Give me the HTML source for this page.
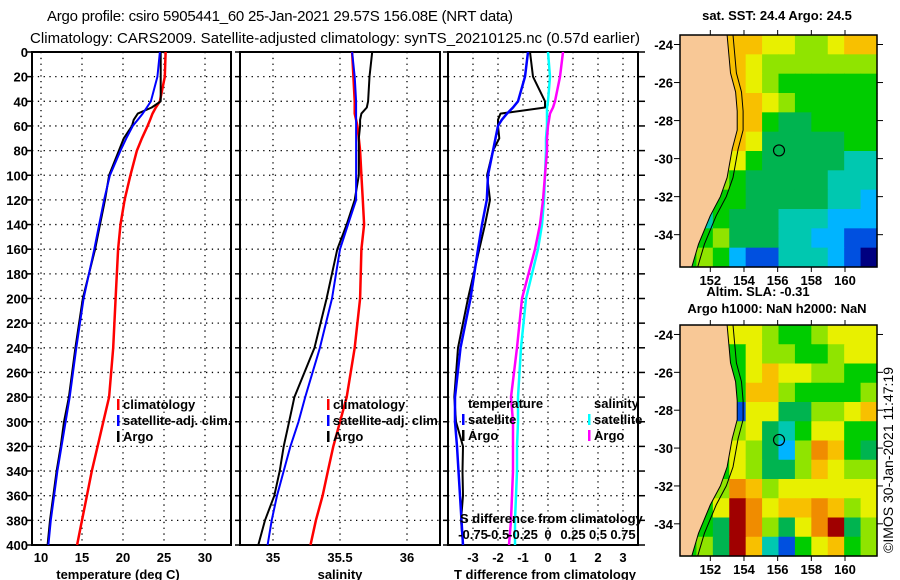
<!DOCTYPE html>
<html><head><meta charset="utf-8"><style>
html,body{margin:0;padding:0;background:#fff;}
svg{display:block;font-family:"Liberation Sans",sans-serif;}
.b{font-weight:bold;font-size:13px;}
.n{font-weight:normal;font-size:15px;}
</style></head><body>
<svg id="c" width="900" height="580" viewBox="0 0 900 580"></svg>
<script>
// ---- data ----
const depths = [0,20,40,45,50,55,60,70,80,100,120,140,160,200,240,280,300,320,340,360,380,400];
const tempClim = [25.2,25.1,24.5,24.0,23.6,23.3,23.0,22.3,21.7,20.9,20.2,19.7,19.4,19.1,18.8,18.3,17.6,16.9,16.2,15.6,15.0,14.4];
const tempSat  = [24.5,24.2,23.4,22.9,22.4,21.8,21.2,20.4,19.7,18.4,17.7,17.1,16.5,15.2,14.3,13.5,13.0,12.5,12.0,11.6,11.2,10.9];
const tempArgo = [24.6,24.6,24.6,23.5,21.8,21.3,21.1,20.1,19.5,18.3,17.8,17.2,16.6,15.1,14.2,13.4,12.8,12.4,11.9,11.5,11.1,10.8];
const salClim = [35.59,35.60,35.61,35.61,35.61,35.62,35.63,35.64,35.65,35.66,35.67,35.68,35.66,35.65,35.61,35.55,35.50,35.45,35.41,35.37,35.32,35.28];
const salSat  = [35.59,35.61,35.62,35.62,35.62,35.62,35.62,35.62,35.62,35.62,35.62,35.56,35.50,35.44,35.35,35.24,35.19,35.13,35.08,35.03,34.99,34.96];
const salArgo = [35.74,35.72,35.71,35.70,35.66,35.65,35.65,35.64,35.64,35.64,35.61,35.55,35.48,35.40,35.31,35.16,35.12,35.08,35.05,35.01,34.94,34.89];
const dTSat  = [-0.8,-0.92,-1.2,-1.4,-1.64,-1.85,-2.0,-2.1,-2.2,-2.4,-2.45,-2.64,-2.8,-3.1,-3.5,-3.72,-3.72,-3.64,-3.58,-3.52,-3.46,-3.4];
const dTArgo = [-0.72,-0.6,-0.12,-0.12,-1.9,-2.0,-2.0,-1.95,-2.2,-2.44,-2.32,-2.52,-2.75,-3.2,-3.6,-3.75,-3.68,-3.4,-3.42,-3.4,-3.48,-3.4];
const dSSat  = [0.0,0.02,0.0,-0.01,-0.01,-0.01,-0.01,-0.02,-0.02,-0.03,-0.04,-0.06,-0.1,-0.22,-0.27,-0.3,-0.3,-0.31,-0.31,-0.32,-0.33,-0.33];
const dSArgo = [0.15,0.12,0.07,0.05,0.02,0.01,0.0,-0.01,-0.01,-0.03,-0.05,-0.08,-0.13,-0.26,-0.31,-0.37,-0.35,-0.35,-0.35,-0.36,-0.37,-0.39];
const depthTicks = [0,20,40,60,80,100,120,140,160,180,200,220,240,260,280,300,320,340,360,380,400];
const tempTicks = [10,15,20,25,30];
const salTicks = [35,35.5,36];
const salTickLabels = ["35","35.5","36"];
const dTTicks = [-3,-2,-1,0,1,2,3];
const dSTicks = [-0.75,-0.5,-0.25,0,0.25,0.5,0.75];
const dSTickLabels = ["-0.75","-0.5","-0.25","0","0.25","0.5","0.75"];
const lonTicks = [152,154,156,158,160];
const latTicks = [-24,-26,-28,-30,-32,-34];
// map fields (rows north->south, cols west->east), colour index 0..10
const sstRows = [
[8,8,8,8,8,7,7,6,6,7,8,8],[8,8,8,8,7,6,6,6,6,6,6,6],[8,8,8,8,7,6,5,5,5,5,5,5],
[8,8,8,8,8,7,6,5,5,5,5,5],[8,8,8,8,8,5,4,4,5,5,5,5],[8,8,8,8,7,4,4,4,4,4,5,5],
[7,7,7,7,5,4,4,4,4,4,3,3],[6,6,6,5,4,4,4,4,4,3,3,3],[5,5,5,5,4,4,4,4,4,3,3,2],
[3,3,5,4,4,4,3,3,3,2,2,2],[5,5,6,4,4,4,3,3,2,2,1,1],[5,6,5,2,1,1,3,3,3,2,1,0]];
const slaRows = [
[7,7,7,7,7,6,5,5,6,7,7,7],[5,5,5,5,7,6,6,5,5,6,7,7],[5,5,5,5,7,8,7,7,6,6,5,5],
[5,5,5,5,8,8,6,5,5,5,5,6],[1,1,1,1,7,7,4,4,6,6,7,8],[6,6,6,6,7,4,3,5,7,7,5,5],
[6,6,6,7,6,4,2,6,9,8,5,4],[5,5,5,7,6,4,4,6,8,7,6,6],[6,6,6,9,8,6,7,7,7,7,7,7],
[5,5,7,10,9,7,8,8,9,8,6,7],[5,5,4,10,9,6,4,7,9,10,4,6],[5,6,4,10,8,3,1,5,7,8,5,6]];
const palette = ["#000080","#0050e0","#00b4ff","#00c8b0","#00b450","#00cc00","#90e400","#e8f000","#f8c000","#f08c00","#a00000"];
const coastLon = [153.0,153.1,153.2,153.5,153.6,153.6,153.3,153.0,152.6,152.0,151.3,150.9];
const coastLat = [-23.5,-24.5,-25.5,-26.5,-27.5,-28.5,-29.5,-31.0,-32.0,-33.0,-34.5,-35.7];
const argoLon = 156.08, argoLat = -29.57;

// ---- helpers ----
const NS="http://www.w3.org/2000/svg";
const svg=document.getElementById('c');
function el(tag,attrs,parent){const e=document.createElementNS(NS,tag);for(const k in attrs)e.setAttribute(k,attrs[k]);(parent||svg).appendChild(e);return e;}
function txt(s,x,y,anchor,cls,parent){const t=el('text',{x:x,y:y,'text-anchor':anchor||'start','class':cls||'b'},parent);t.textContent=s;return t;}

const yD=d=>52+d*1.2325;
const xT=t=>41+(t-10)*8.2;
const xS=s=>273+(s-35)*134;
const xDT=d=>548+d*25;
const xDS=s=>548+s*100;
const TOP=52,BOT=545;

// titles
let t1=txt("Argo profile: csiro 5905441_60 25-Jan-2021 29.57S 156.08E (NRT data)",47,21,'start','n');
t1.setAttribute('textLength','466');


let t2=txt("Climatology: CARS2009. Satellite-adjusted climatology: synTS_20210125.nc (0.57d earlier)",30,43,'start','n');
t2.setAttribute('textLength','610');



function panel(name,x0,x1,xticks,xf,labels,xtitle,xtitleX){
  const g=el('g',{});
  
  
  depthTicks.forEach(d=>{ if(d>0&&d<400) el('line',{x1:x0,x2:x1,y1:yD(d),y2:yD(d),stroke:'#000','stroke-dasharray':'1.3 4.5','stroke-width':1.3},g);});
  xticks.forEach(v=>{el('line',{x1:xf(v),x2:xf(v),y1:TOP,y2:BOT,stroke:'#000','stroke-dasharray':'1.3 4.5','stroke-width':1.3},g);});
  el('rect',{x:x0,y:TOP,width:x1-x0,height:BOT-TOP,fill:'none',stroke:'#000','stroke-width':2},g);
  depthTicks.forEach(d=>{el('line',{x1:x0-5,x2:x0,y1:yD(d),y2:yD(d),stroke:'#000','stroke-width':1.5},g);});
  if(labels) xticks.forEach((v,i)=>{const l=txt(labels[i],xf(v),562,'middle','b',g);
    
    });
  const tt=txt(xtitle,xtitleX,579,'middle','b',g);
  
  
  return g;
}
function line(g,vals,xf,color,w,name){
  const pts=vals.map((v,i)=>xf(v).toFixed(1)+","+yD(depths[i]).toFixed(1)).join(" ");
  const p=el('polyline',{points:pts,fill:'none',stroke:color,'stroke-width':w,'stroke-linejoin':'round'},g);
  
  
}
// panel 1
const g1=panel('temperature-panel',32,231,tempTicks,xT,tempTicks.map(String),'temperature (deg C)',118);
depthTicks.forEach(d=>{const l=txt(String(d),28,yD(d)+5,'end','b',g1);
  
  });
line(g1,tempClim,xT,'#ff0000',2.5,'temp-climatology-line');
line(g1,tempArgo,xT,'#000',2,'temp-argo-line');
line(g1,tempSat,xT,'#0000ff',2,'temp-satellite-line');
function legItem(g,x,y,color,label,nm){
  el('rect',{x:x,y:y-10,width:2.5,height:11,fill:color},g);
  const l=txt(label,x+6,y,'start','b',g);
  
  
}
legItem(g1,117,409,'#ff0000','climatology','legend-climatology');
legItem(g1,117,425,'#0000ff','satellite-adj. clim.','legend-satellite');
legItem(g1,117,441,'#000','Argo','legend-argo');
// panel 2
const g2=panel('salinity-panel',240,440,salTicks,xS,salTickLabels,'salinity',340);
line(g2,salClim,xS,'#ff0000',2.5,'sal-climatology-line');
line(g2,salArgo,xS,'#000',2,'sal-argo-line');
line(g2,salSat,xS,'#0000ff',2,'sal-satellite-line');
legItem(g2,327,409,'#ff0000','climatology','legend-climatology');
legItem(g2,327,425,'#0000ff','satellite-adj. clim.','legend-satellite');
legItem(g2,327,441,'#000','Argo','legend-argo');
// panel 3
const g3=panel('difference-panel',448,638,dTTicks,xDT,dTTicks.map(String),'T difference from climatology',545);
depthTicks.forEach(d=>{el('line',{x1:638,x2:645,y1:yD(d),y2:yD(d),stroke:'#000','stroke-width':1.5},g3);});
line(g3,dSSat,xDS,'#00ffff',2.5,'sal-diff-satellite-line');
line(g3,dSArgo,xDS,'#ff00ff',2.5,'sal-diff-argo-line');
line(g3,dTArgo,xDT,'#000',2,'temp-diff-argo-line');
line(g3,dTSat,xDT,'#0000ff',2.5,'temp-diff-satellite-line');
let lt=txt('temperature',468,408,'start','b',g3);


let ls=txt('salinity',594,408,'start','b',g3);


legItem(g3,462,424,'#0000ff','satellite','legend-temp-satellite');
legItem(g3,462,440,'#000','Argo','legend-temp-argo');
legItem(g3,588,424,'#00ffff','satellite','legend-sal-satellite');
legItem(g3,588,440,'#ff00ff','Argo','legend-sal-argo');
let sd=txt('S difference from climatology',460,523,'start','b',g3);


dSTicks.forEach((v,i)=>{const l=txt(dSTickLabels[i],xDS(v),539,'middle','b',g3);
  
  });

// maps
function map(name,x0,y0,x1,y1,rows){
  const g=el('g',{});
  
  
  const lon0=150.2,lon1=161.9,lat0=-23.5,lat1=-35.7;
  const xL=l=>x0+(l-lon0)/(lon1-lon0)*(x1-x0);
  const yL=l=>y0+(l-lat0)/(lat1-lat0)*(y1-y0);
  const nr=rows.length,nc=rows[0].length,cw=(x1-x0)/nc,ch=(y1-y0)/nr;
  rows.forEach((r,i)=>r.forEach((v,j)=>{
    const c=el('rect',{x:x0+j*cw,y:y0+i*ch,width:cw+0.6,height:ch+0.6,fill:palette[v]},g);
    
    
  }));
  let pts=coastLon.map((l,i)=>xL(l).toFixed(1)+","+yL(coastLat[i]).toFixed(1));
  const land=el('polygon',{points:x0+","+y0+" "+pts.join(" ")+" "+x0+","+y1,fill:'#f8c896'},g);
  
  
  el('polyline',{points:pts.join(" "),fill:'none',stroke:'#000','stroke-width':1},g);
  const shelf=coastLon.map((l,i)=>xL(l+0.35).toFixed(1)+","+yL(coastLat[i]).toFixed(1)).join(" ");
  const sh=el('polyline',{points:shelf,fill:'none',stroke:'#000','stroke-width':1},g);
  
  
  const c=el('circle',{cx:xL(argoLon),cy:yL(argoLat),r:5.5,fill:'none',stroke:'#000','stroke-width':1.2},g);
  
  
  el('rect',{x:x0,y:y0,width:x1-x0,height:y1-y0,fill:'none',stroke:'#000','stroke-width':1.5},g);
  lonTicks.forEach(l=>{el('line',{x1:xL(l),x2:xL(l),y1:y0-5,y2:y0,stroke:'#000'},g);el('line',{x1:xL(l),x2:xL(l),y1:y1,y2:y1+5,stroke:'#000'},g);
    const t=txt(String(l),xL(l),y1+18,'middle','b',g);
    
    });
  latTicks.forEach(l=>{el('line',{x1:x0-6,x2:x0,y1:yL(l),y2:yL(l),stroke:'#000'},g);el('line',{x1:x1,x2:x1+6,y1:yL(l),y2:yL(l),stroke:'#000'},g);
    const t=txt(String(l),x0-7,yL(l)+5,'end','b',g);
    
    });
  return g;
}
map('sst-map',680,35,877,267,sstRows);
map('sla-map',680,325,877,556,slaRows);
[["sat. SST: 24.4 Argo: 24.5",777,20,'sst-map-title'],["Altim. SLA: -0.31",758,296,'sla-value-label'],["Argo h1000: NaN h2000: NaN",777,313,'sla-map-title']].forEach(a=>{
  const t=txt(a[0],a[1],a[2],'middle','b');
  
  
});
const cr=txt('©IMOS 30-Jan-2021 11:47:19',0,0,'middle','n');
cr.setAttribute('font-size','14');
cr.setAttribute('style','font-size:14px');
cr.setAttribute('transform','translate(893,460) rotate(-90)');


</script>
</body></html>
